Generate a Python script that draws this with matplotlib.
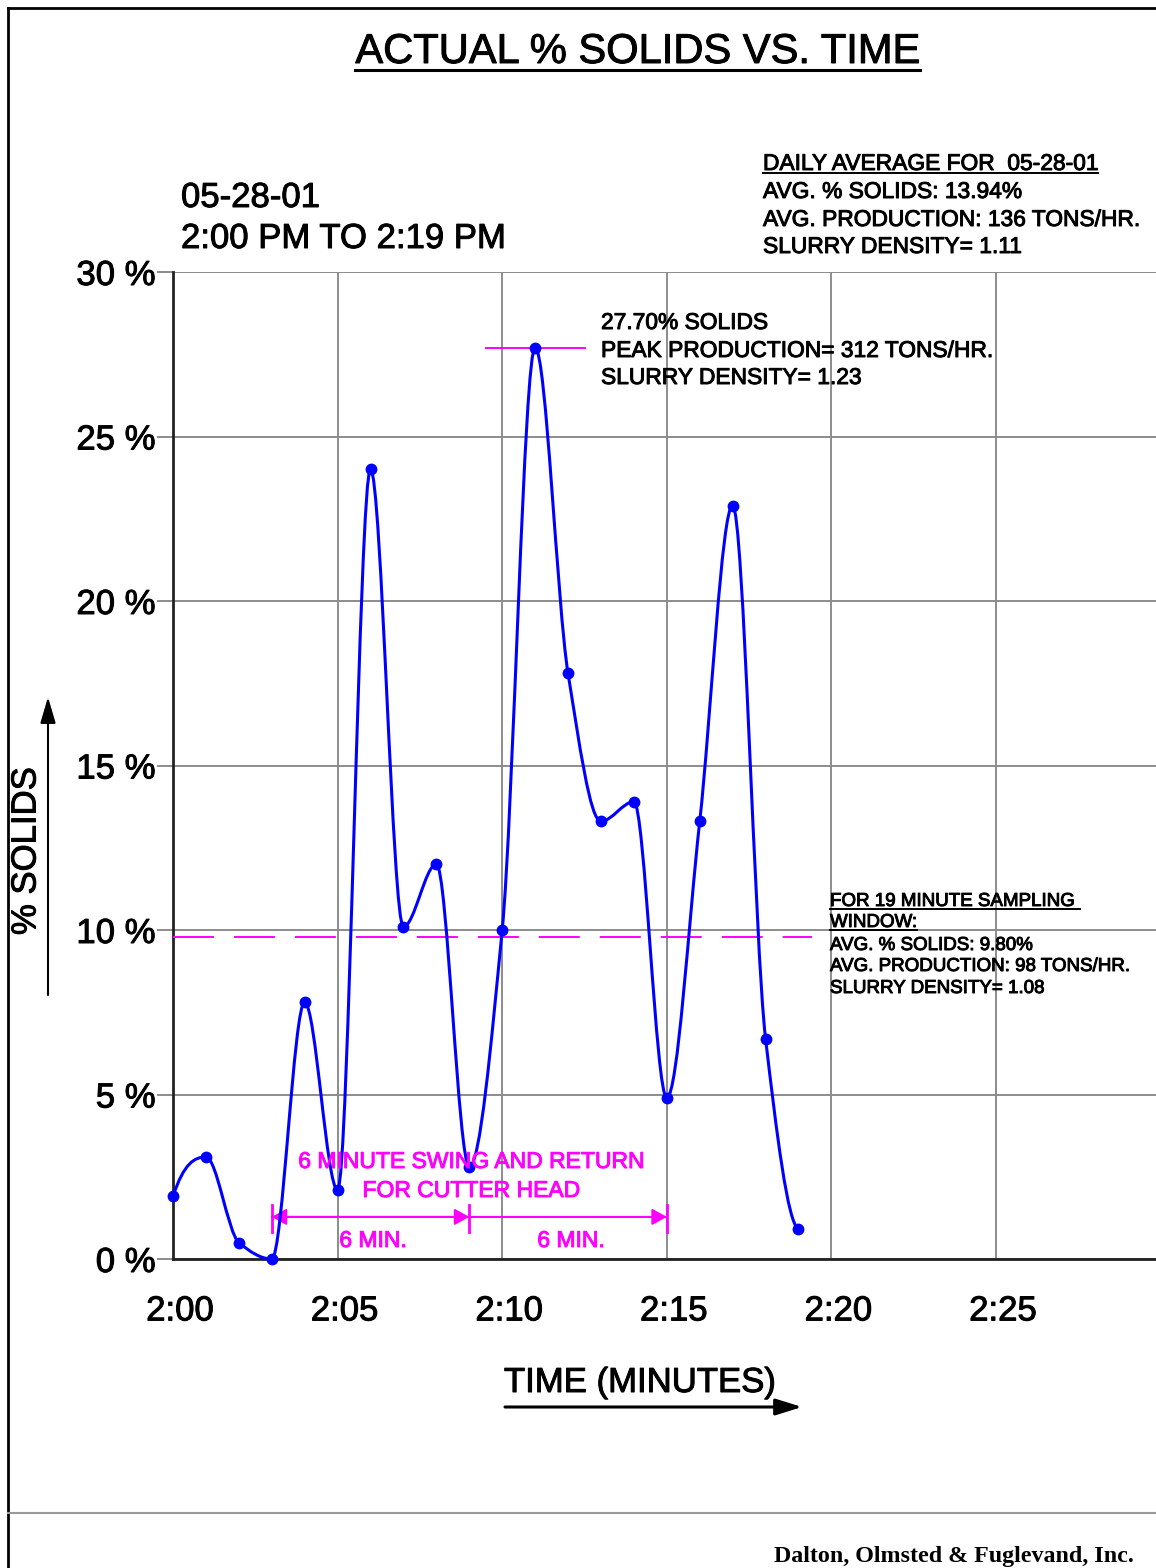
import numpy as np
import matplotlib
matplotlib.use('Agg')
import matplotlib.pyplot as plt
from matplotlib.path import Path
from matplotlib.patches import PathPatch
from matplotlib.lines import Line2D
import matplotlib.transforms as mtransforms
import matplotlib.patheffects as pe
from matplotlib.text import Text

plt.rcParams['font.family'] = ['Liberation Sans', 'DejaVu Sans']
plt.rcParams['lines.scale_dashes'] = False

# ---------------- data ----------------
minutes = [0, 1, 2, 3, 4, 5, 6, 7, 8, 9, 10, 11, 12, 13, 14, 15, 16, 17, 18, 19]
solids = [1.9, 3.1, 0.5, 0.0, 7.8, 2.1, 24.0, 10.1, 12.0, 2.8,
          10.0, 27.7, 17.8, 13.3, 13.9, 4.9, 13.3, 22.9, 6.7, 0.9]
x_ticks = [0, 5, 10, 15, 20, 25]
x_tick_labels = ['2:00', '2:05', '2:10', '2:15', '2:20', '2:25']
y_ticks = [0, 5, 10, 15, 20, 25, 30]
y_tick_labels = ['0 %', '5 %', '10 %', '15 %', '20 %', '25 %', '30 %']
window_avg = 9.80
window_end = 19.4
peak_minute = 11
peak_value = 27.70
swing_marks = [3, 9, 15]
swing_level = 1.28
swing_tick_lo, swing_tick_hi = 0.82, 1.64

W, H = 1156, 1568
BLUE = '#0000FF'
MAG = '#FF00FF'
GRID = '#8c8c8c'


def fx(x):
    return x / W


def fy(y):
    return 1 - y / H


def pchip_slopes(x, y):
    x = np.asarray(x, float)
    y = np.asarray(y, float)
    h = np.diff(x)
    delta = np.diff(y) / h
    n = len(x)
    d = np.zeros(n)
    for k in range(1, n - 1):
        if delta[k - 1] * delta[k] > 0:
            w1 = 2 * h[k] + h[k - 1]
            w2 = h[k] + 2 * h[k - 1]
            d[k] = (w1 + w2) / (w1 / delta[k - 1] + w2 / delta[k])
        else:
            d[k] = 0.0

    def end(h0, h1, m0, m1):
        dd = ((2 * h0 + h1) * m0 - h0 * m1) / (h0 + h1)
        if np.sign(dd) != np.sign(m0):
            return 0.0
        if np.sign(m0) != np.sign(m1) and abs(dd) > abs(3 * m0):
            return 3 * m0
        return dd
    d[0] = end(h[0], h[1], delta[0], delta[1])
    d[-1] = end(h[-1], h[-2], delta[-1], delta[-2])
    return d


fig = plt.figure(figsize=(W / 100, H / 100), dpi=100)
fig.patch.set_facecolor('white')

ax = fig.add_axes([173 / W, 1 - 1259 / H, (W - 173) / W, (1259 - 272) / H])
ax.set_xlim(0, (W - 173) / 32.92)
ax.set_ylim(0, 30)
ax.set_xticks(x_ticks)
ax.set_xticklabels(x_tick_labels)
ax.set_yticks(y_ticks)
ax.set_yticklabels(y_tick_labels)
ax.grid(True, color=GRID, lw=1.4)
ax.set_axisbelow(True)
for s in ['top', 'right']:
    ax.spines[s].set_visible(False)
for s in ['left', 'bottom']:
    ax.spines[s].set_color('#222222')
    ax.spines[s].set_linewidth(2.0)
ax.tick_params(axis='y', length=11.5, width=1.4, color=GRID, pad=1, labelsize=25)
ax.tick_params(axis='x', length=0, pad=25.5, labelsize=25)
off = mtransforms.ScaledTranslation(7 / 100, 0, fig.dpi_scale_trans)
for lbl in ax.get_xticklabels():
    lbl.set_transform(lbl.get_transform() + off)

# smooth monotone curve through samples (cubic Bezier segments)
d = pchip_slopes(minutes, solids)
verts = [(minutes[0], solids[0])]
codes = [Path.MOVETO]
for i in range(len(minutes) - 1):
    h = minutes[i + 1] - minutes[i]
    verts += [(minutes[i] + h / 3, solids[i] + d[i] * h / 3),
              (minutes[i + 1] - h / 3, solids[i + 1] - d[i + 1] * h / 3),
              (minutes[i + 1], solids[i + 1])]
    codes += [Path.CURVE4] * 3
ax.add_patch(PathPatch(Path(verts, codes), fill=False, ec=BLUE, lw=2.2,
                       transform=ax.transData, zorder=4, clip_on=False))
ax.plot(minutes, solids, 'o', color=BLUE, ms=7.5, zorder=5, clip_on=False)

# window average dashed line
ax.plot([0, window_end], [window_avg, window_avg], color=MAG, lw=1.4,
        dashes=(29.5, 14.4), zorder=3)
# peak line
ax.plot([peak_minute - 1.5, peak_minute + 1.5], [peak_value, peak_value],
        color=MAG, lw=1.4, zorder=3)

# swing dimension
ax.plot([swing_marks[0], swing_marks[-1]], [swing_level] * 2, color=MAG, lw=1.4, zorder=3)
for m in swing_marks:
    ax.plot([m, m], [swing_tick_lo, swing_tick_hi], color=MAG, lw=2.0, zorder=3)
ap = dict(arrowstyle='-|>,head_length=0.9,head_width=0.5', mutation_scale=10,
          color=MAG, lw=1.4, shrinkA=0, shrinkB=0)
ax.annotate('', xy=(swing_marks[0], swing_level), xytext=(swing_marks[1], swing_level), arrowprops=ap)
ax.annotate('', xy=(swing_marks[1], swing_level), xytext=(swing_marks[0], swing_level), arrowprops=ap)
ax.annotate('', xy=(swing_marks[2], swing_level), xytext=(swing_marks[1], swing_level), arrowprops=ap)


def ftext(x, y, s, size, ha='left', color='black', **kw):
    return fig.text(fx(x), fy(y), s, ha=ha, va='baseline', fontsize=size, color=color, **kw)


underlined = []

# title
t = ftext(637.5, 63, 'ACTUAL % SOLIDS VS. TIME', 30, ha='center')
underlined.append((t, 70, 2.2))

ftext(181, 207, '05-28-01', 25)
ftext(181, 248, '2:00 PM TO 2:19 PM', 25)

t = ftext(763, 170, 'DAILY AVERAGE FOR  05-28-01', 16.4)
underlined.append((t, 173, 1.4))
ftext(763, 198, 'AVG. % SOLIDS: 13.94%', 16.4)
ftext(763, 226, 'AVG. PRODUCTION: 136 TONS/HR.', 16.4)
ftext(763, 253, 'SLURRY DENSITY= 1.11', 16.4)

ftext(601, 329, '27.70% SOLIDS', 16.4)
ftext(601, 357, 'PEAK PRODUCTION= 312 TONS/HR.', 16.4)
ftext(601, 384, 'SLURRY DENSITY= 1.23', 16.4)

t = ftext(830, 906, 'FOR 19 MINUTE SAMPLING ', 13.5)
underlined.append((t, 909, 1.4))
t = ftext(830, 927, 'WINDOW:', 13.5)
underlined.append((t, 930, 1.4))
ftext(830, 950, 'AVG. % SOLIDS: 9.80%', 13.5)
ftext(830, 971, 'AVG. PRODUCTION: 98 TONS/HR.', 13.5)
ftext(830, 993, 'SLURRY DENSITY= 1.08', 13.5)

ftext(471, 1168, '6 MINUTE SWING AND RETURN', 16.5, ha='center', color=MAG)
ftext(471, 1197, 'FOR CUTTER HEAD', 16.5, ha='center', color=MAG)
ftext(373, 1247, '6 MIN.', 16.5, ha='center', color=MAG)
ftext(571, 1247, '6 MIN.', 16.5, ha='center', color=MAG)

# axis labels with arrows
fig.text(fx(26), fy(851), '% SOLIDS', rotation=90, ha='center', va='center', fontsize=25)
ax.annotate('', xy=(fx(48), fy(697)), xytext=(fx(48), fy(995)), xycoords='figure fraction',
            textcoords='figure fraction',
            arrowprops=dict(arrowstyle='-|>,head_length=1.6,head_width=0.47', mutation_scale=10,
                            lw=1.5, color='black', shrinkA=0, shrinkB=0))
ftext(640, 1392, 'TIME (MINUTES)', 25, ha='center')
ax.annotate('', xy=(fx(802), fy(1407)), xytext=(fx(505), fy(1407)), xycoords='figure fraction',
            textcoords='figure fraction',
            arrowprops=dict(arrowstyle='-|>,head_length=1.6,head_width=0.5', mutation_scale=10,
                            lw=2.2, color='black', shrinkA=0, shrinkB=0))

# slightly heavier strokes for the sans-serif lettering (scanned CAD look)
for txt in fig.findobj(Text):
    if txt.get_text():
        txt.set_path_effects([pe.withStroke(linewidth=0.7, foreground=txt.get_color())])

# frame / footer
fig.add_artist(Line2D([fx(8), fx(8)], [fy(8), 0], color='black', lw=2.0))
fig.add_artist(Line2D([fx(8), 1], [fy(8), fy(8)], color='black', lw=2.0))
fig.add_artist(Line2D([fx(8), 1], [fy(1513), fy(1513)], color='#9a9a9a', lw=1.5))
ftext(1134, 1562, 'Dalton, Olmsted & Fuglevand, Inc.', 17.3,
      ha='right', family=['Liberation Serif', 'DejaVu Serif'], weight='bold')

# underlines sized to the drawn text
fig.canvas.draw()
r = fig.canvas.get_renderer()
for txt, yy, lw in underlined:
    bb = txt.get_window_extent(r)
    fig.add_artist(Line2D([bb.x0 / W, bb.x1 / W], [fy(yy), fy(yy)], color='black', lw=lw))

fig.savefig('out.png', dpi=100)
